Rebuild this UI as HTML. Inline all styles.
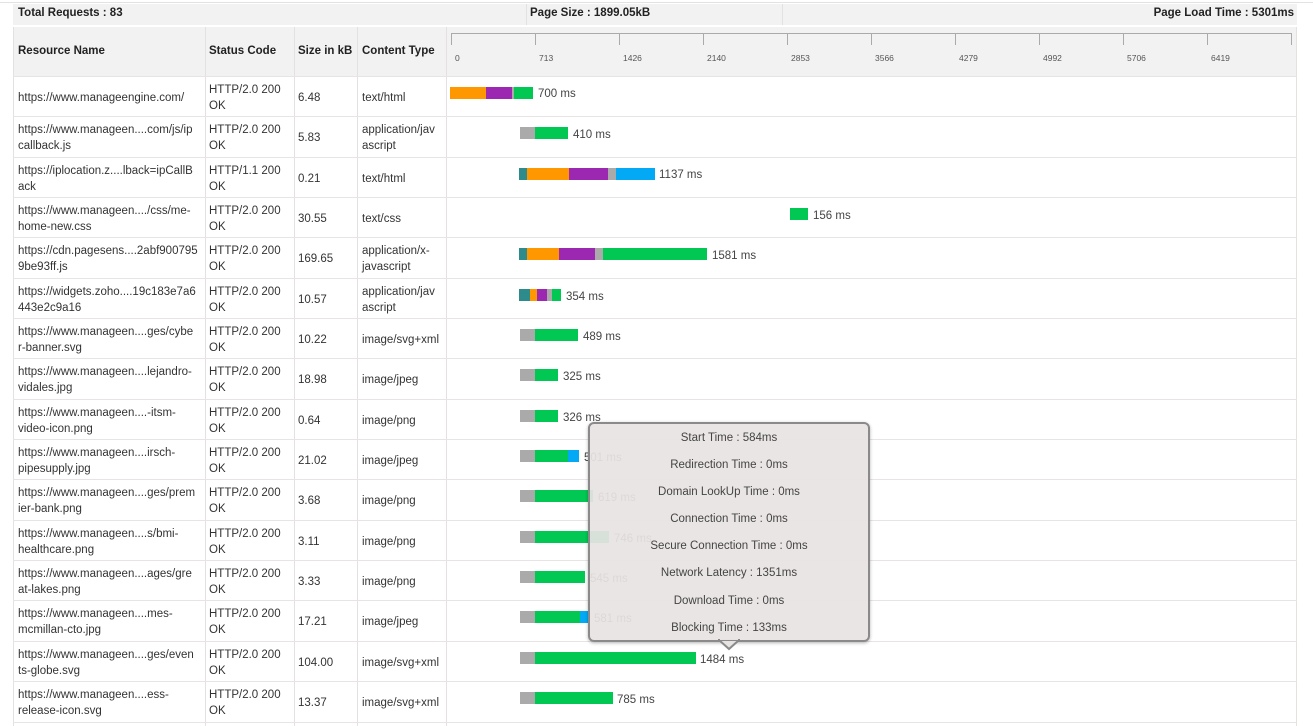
<!DOCTYPE html>
<html><head><meta charset="utf-8"><style>
*{margin:0;padding:0;box-sizing:border-box}
body{width:1313px;height:726px;background:#fff;position:relative;overflow:hidden;font-family:"Liberation Sans",sans-serif;color:#333;font-size:11.5px}
.a{position:absolute}
.hb{font-weight:bold;font-size:11.5px;color:#222}
.cell{position:absolute;line-height:16px;display:flex;align-items:center;height:40px;margin-top:2px}
.b{position:absolute;height:12px}
.lbl{position:absolute;font-size:11.5px;color:#444;line-height:12px;margin-top:1px}
.vl{position:absolute;width:1px;background:#e6e1e1;top:27px;height:699px}
.hl{position:absolute;left:13px;width:1284px;height:1px;background:#e8e4e4}
.tk{position:absolute;top:33px;width:1px;height:12px;background:#aaa}
.tl{position:absolute;top:53px;font-size:8.5px;color:#555}
.O{background:#ff9800}.P{background:#9c27b0}.G{background:#00c853}.Y{background:#aaa}.B{background:#03a9f4}.T{background:#2e8b8b}
.tip{position:absolute;left:588px;top:422px;width:282px;height:220px;background:rgba(232,227,227,0.93);border:2px solid #8a8a8a;border-radius:6px;box-shadow:0 1px 3px rgba(0,0,0,.3)}
.tip div{position:absolute;left:0;width:100%;text-align:center;font-size:11.5px;color:#444}
</style></head><body>
<div class="a" style="left:0;top:2px;width:1313px;height:1px;background:#e2e2e2"></div>
<div class="a" style="left:13px;top:4px;width:1284px;height:21px;background:#f2f2f2"></div>
<div class="a" style="left:526px;top:4px;width:1px;height:21px;background:#e2e2e2"></div>
<div class="a" style="left:782px;top:4px;width:1px;height:21px;background:#e2e2e2"></div>
<div class="a hb" style="left:18px;top:7px">Total Requests : 83</div>
<div class="a hb" style="left:530px;top:7px">Page Size : 1899.05kB</div>
<div class="a hb" style="right:19px;top:7px">Page Load Time : 5301ms</div>
<div class="a" style="left:13px;top:27px;width:1284px;height:49px;background:#f2f2f2"></div>
<div class="a hb" style="left:18px;top:45px">Resource Name</div>
<div class="a hb" style="left:209px;top:45px">Status Code</div>
<div class="a hb" style="left:298px;top:45px">Size in kB</div>
<div class="a hb" style="left:362px;top:45px">Content Type</div>
<div class="a" style="left:451px;top:33px;width:841px;height:1px;background:#aaa"></div>
<div class="tk" style="left:451px"></div><div class="tk" style="left:535px"></div><div class="tk" style="left:619px"></div><div class="tk" style="left:703px"></div><div class="tk" style="left:787px"></div><div class="tk" style="left:871px"></div><div class="tk" style="left:955px"></div><div class="tk" style="left:1039px"></div><div class="tk" style="left:1123px"></div><div class="tk" style="left:1207px"></div><div class="tk" style="left:1291px"></div>
<div class="tl" style="left:455px">0</div><div class="tl" style="left:539px">713</div><div class="tl" style="left:623px">1426</div><div class="tl" style="left:707px">2140</div><div class="tl" style="left:791px">2853</div><div class="tl" style="left:875px">3566</div><div class="tl" style="left:959px">4279</div><div class="tl" style="left:1043px">4992</div><div class="tl" style="left:1127px">5706</div><div class="tl" style="left:1211px">6419</div>
<div class="vl" style="left:13px"></div><div class="vl" style="left:205px"></div><div class="vl" style="left:294px"></div><div class="vl" style="left:357px"></div><div class="vl" style="left:446px"></div><div class="vl" style="left:1296px"></div>
<div class="hl" style="top:76px"></div><div class="hl" style="top:116px"></div><div class="hl" style="top:157px"></div><div class="hl" style="top:197px"></div><div class="hl" style="top:237px"></div><div class="hl" style="top:278px"></div><div class="hl" style="top:318px"></div><div class="hl" style="top:358px"></div><div class="hl" style="top:399px"></div><div class="hl" style="top:439px"></div><div class="hl" style="top:479px"></div><div class="hl" style="top:520px"></div><div class="hl" style="top:560px"></div><div class="hl" style="top:600px"></div><div class="hl" style="top:641px"></div><div class="hl" style="top:681px"></div><div class="hl" style="top:722px"></div>

<div class="cell" style="left:18px;top:76px">https://www.manageengine.com/</div><div class="cell" style="left:209px;top:76px">HTTP/2.0 200<br>OK</div><div class="cell" style="left:298px;top:76px">6.48</div><div class="cell" style="left:362px;top:76px">text/html</div>
<div class="cell" style="left:18px;top:116px">https://www.manageen....com/js/ip<br>callback.js</div><div class="cell" style="left:209px;top:116px">HTTP/2.0 200<br>OK</div><div class="cell" style="left:298px;top:116px">5.83</div><div class="cell" style="left:362px;top:116px">application/jav<br>ascript</div>
<div class="cell" style="left:18px;top:157px">https://iplocation.z....lback=ipCallB<br>ack</div><div class="cell" style="left:209px;top:157px">HTTP/1.1 200<br>OK</div><div class="cell" style="left:298px;top:157px">0.21</div><div class="cell" style="left:362px;top:157px">text/html</div>
<div class="cell" style="left:18px;top:197px">https://www.manageen..../css/me-<br>home-new.css</div><div class="cell" style="left:209px;top:197px">HTTP/2.0 200<br>OK</div><div class="cell" style="left:298px;top:197px">30.55</div><div class="cell" style="left:362px;top:197px">text/css</div>
<div class="cell" style="left:18px;top:237px">https://cdn.pagesens....2abf900795<br>9be93ff.js</div><div class="cell" style="left:209px;top:237px">HTTP/2.0 200<br>OK</div><div class="cell" style="left:298px;top:237px">169.65</div><div class="cell" style="left:362px;top:237px">application/x-<br>javascript</div>
<div class="cell" style="left:18px;top:278px">https://widgets.zoho....19c183e7a6<br>443e2c9a16</div><div class="cell" style="left:209px;top:278px">HTTP/2.0 200<br>OK</div><div class="cell" style="left:298px;top:278px">10.57</div><div class="cell" style="left:362px;top:278px">application/jav<br>ascript</div>
<div class="cell" style="left:18px;top:318px">https://www.manageen....ges/cybe<br>r-banner.svg</div><div class="cell" style="left:209px;top:318px">HTTP/2.0 200<br>OK</div><div class="cell" style="left:298px;top:318px">10.22</div><div class="cell" style="left:362px;top:318px">image/svg+xml</div>
<div class="cell" style="left:18px;top:358px">https://www.manageen....lejandro-<br>vidales.jpg</div><div class="cell" style="left:209px;top:358px">HTTP/2.0 200<br>OK</div><div class="cell" style="left:298px;top:358px">18.98</div><div class="cell" style="left:362px;top:358px">image/jpeg</div>
<div class="cell" style="left:18px;top:399px">https://www.manageen....-itsm-<br>video-icon.png</div><div class="cell" style="left:209px;top:399px">HTTP/2.0 200<br>OK</div><div class="cell" style="left:298px;top:399px">0.64</div><div class="cell" style="left:362px;top:399px">image/png</div>
<div class="cell" style="left:18px;top:439px">https://www.manageen....irsch-<br>pipesupply.jpg</div><div class="cell" style="left:209px;top:439px">HTTP/2.0 200<br>OK</div><div class="cell" style="left:298px;top:439px">21.02</div><div class="cell" style="left:362px;top:439px">image/jpeg</div>
<div class="cell" style="left:18px;top:479px">https://www.manageen....ges/prem<br>ier-bank.png</div><div class="cell" style="left:209px;top:479px">HTTP/2.0 200<br>OK</div><div class="cell" style="left:298px;top:479px">3.68</div><div class="cell" style="left:362px;top:479px">image/png</div>
<div class="cell" style="left:18px;top:520px">https://www.manageen....s/bmi-<br>healthcare.png</div><div class="cell" style="left:209px;top:520px">HTTP/2.0 200<br>OK</div><div class="cell" style="left:298px;top:520px">3.11</div><div class="cell" style="left:362px;top:520px">image/png</div>
<div class="cell" style="left:18px;top:560px">https://www.manageen....ages/gre<br>at-lakes.png</div><div class="cell" style="left:209px;top:560px">HTTP/2.0 200<br>OK</div><div class="cell" style="left:298px;top:560px">3.33</div><div class="cell" style="left:362px;top:560px">image/png</div>
<div class="cell" style="left:18px;top:600px">https://www.manageen....mes-<br>mcmillan-cto.jpg</div><div class="cell" style="left:209px;top:600px">HTTP/2.0 200<br>OK</div><div class="cell" style="left:298px;top:600px">17.21</div><div class="cell" style="left:362px;top:600px">image/jpeg</div>
<div class="cell" style="left:18px;top:641px">https://www.manageen....ges/even<br>ts-globe.svg</div><div class="cell" style="left:209px;top:641px">HTTP/2.0 200<br>OK</div><div class="cell" style="left:298px;top:641px">104.00</div><div class="cell" style="left:362px;top:641px">image/svg+xml</div>
<div class="cell" style="left:18px;top:681px">https://www.manageen....ess-<br>release-icon.svg</div><div class="cell" style="left:209px;top:681px">HTTP/2.0 200<br>OK</div><div class="cell" style="left:298px;top:681px">13.37</div><div class="cell" style="left:362px;top:681px">image/svg+xml</div>

<div class="b O" style="left:450px;top:87px;width:36px"></div><div class="b P" style="left:486px;top:87px;width:26px"></div><div class="b Y" style="left:512px;top:87px;width:2px"></div><div class="b G" style="left:514px;top:87px;width:19px"></div><div class="lbl" style="left:538px;top:87px">700 ms</div>
<div class="b Y" style="left:520px;top:127px;width:15px"></div><div class="b G" style="left:535px;top:127px;width:33px"></div><div class="lbl" style="left:573px;top:128px">410 ms</div>
<div class="b T" style="left:519px;top:168px;width:8px"></div><div class="b O" style="left:527px;top:168px;width:42px"></div><div class="b P" style="left:569px;top:168px;width:39px"></div><div class="b Y" style="left:608px;top:168px;width:8px"></div><div class="b B" style="left:616px;top:168px;width:39px"></div><div class="lbl" style="left:659px;top:168px">1137 ms</div>
<div class="b G" style="left:790px;top:208px;width:18px"></div><div class="lbl" style="left:813px;top:209px">156 ms</div>
<div class="b T" style="left:519px;top:248px;width:8px"></div><div class="b O" style="left:527px;top:248px;width:32px"></div><div class="b P" style="left:559px;top:248px;width:36px"></div><div class="b Y" style="left:595px;top:248px;width:8px"></div><div class="b G" style="left:603px;top:248px;width:104px"></div><div class="lbl" style="left:712px;top:249px">1581 ms</div>
<div class="b T" style="left:519px;top:289px;width:11px"></div><div class="b O" style="left:530px;top:289px;width:7px"></div><div class="b P" style="left:537px;top:289px;width:10px"></div><div class="b Y" style="left:547px;top:289px;width:5px"></div><div class="b G" style="left:552px;top:289px;width:9px"></div><div class="lbl" style="left:566px;top:290px">354 ms</div>
<div class="b Y" style="left:520px;top:329px;width:15px"></div><div class="b G" style="left:535px;top:329px;width:43px"></div><div class="lbl" style="left:583px;top:330px">489 ms</div>
<div class="b Y" style="left:520px;top:369px;width:15px"></div><div class="b G" style="left:535px;top:369px;width:23px"></div><div class="lbl" style="left:563px;top:370px">325 ms</div>
<div class="b Y" style="left:520px;top:410px;width:15px"></div><div class="b G" style="left:535px;top:410px;width:23px"></div><div class="lbl" style="left:563px;top:411px">326 ms</div>
<div class="b Y" style="left:520px;top:450px;width:15px"></div><div class="b G" style="left:535px;top:450px;width:33px"></div><div class="b B" style="left:568px;top:450px;width:11px"></div><div class="lbl" style="left:584px;top:451px">501 ms</div>
<div class="b Y" style="left:520px;top:490px;width:15px"></div><div class="b G" style="left:535px;top:490px;width:58px"></div><div class="lbl" style="left:598px;top:491px">619 ms</div>
<div class="b Y" style="left:520px;top:531px;width:15px"></div><div class="b G" style="left:535px;top:531px;width:74px"></div><div class="lbl" style="left:614px;top:532px">746 ms</div>
<div class="b Y" style="left:520px;top:571px;width:15px"></div><div class="b G" style="left:535px;top:571px;width:50px"></div><div class="lbl" style="left:590px;top:572px">545 ms</div>
<div class="b Y" style="left:520px;top:611px;width:15px"></div><div class="b G" style="left:535px;top:611px;width:45px"></div><div class="b B" style="left:580px;top:611px;width:10px"></div><div class="lbl" style="left:594px;top:612px">581 ms</div>
<div class="b Y" style="left:520px;top:652px;width:15px"></div><div class="b G" style="left:535px;top:652px;width:161px"></div><div class="lbl" style="left:700px;top:653px">1484 ms</div>
<div class="b Y" style="left:520px;top:692px;width:15px"></div><div class="b G" style="left:535px;top:692px;width:78px"></div><div class="lbl" style="left:617px;top:693px">785 ms</div>

<div class="tip">
<div style="top:8px">Start Time : 584ms</div>
<div style="top:35px">Redirection Time : 0ms</div>
<div style="top:62px">Domain LookUp Time : 0ms</div>
<div style="top:89px">Connection Time : 0ms</div>
<div style="top:116px">Secure Connection Time : 0ms</div>
<div style="top:143px">Network Latency : 1351ms</div>
<div style="top:171px">Download Time : 0ms</div>
<div style="top:198px">Blocking Time : 133ms</div>
</div>
<svg class="a" style="left:718px;top:639px" width="22" height="12"><polygon points="1,1 11,10 21,1" fill="#e8e3e3" stroke="#8a8a8a" stroke-width="2"/><rect x="0" y="-2" width="22" height="3" fill="#e8e3e3"/><line x1="0" y1="1" x2="2" y2="1" stroke="#8a8a8a" stroke-width="2"/><line x1="20" y1="1" x2="22" y2="1" stroke="#8a8a8a" stroke-width="2"/></svg>
</body></html>
